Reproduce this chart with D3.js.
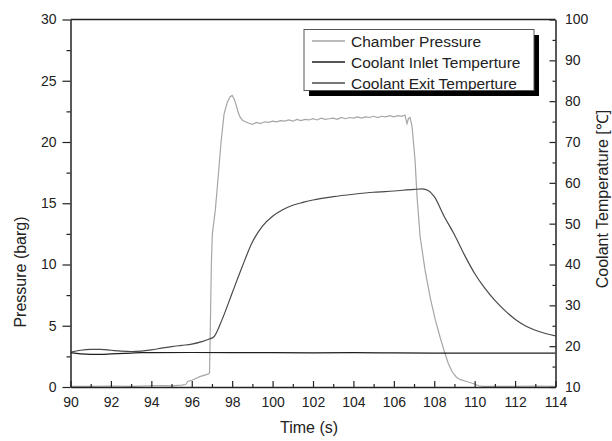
<!DOCTYPE html>
<html>
<head>
<meta charset="utf-8">
<script src="https://cdn.jsdelivr.net/npm/d3@7"></script>
<style>
  body { margin: 0; background: #fff; }
  svg { display: block; font-family: "Liberation Sans", Arial, sans-serif; }
  .axis path, .axis line { stroke: #222; }
  .axis text { font-size: 14px; fill: #222; font-family: "Liberation Sans", Arial, sans-serif; }
</style>
</head>
<body>
<div id="chart"></div>
<script>
// Chamber pressure (barg) vs time (s)
var pressureTime = [90, 91, 92, 93, 94, 94.5, 95, 95.5, 95.7, 95.8, 96.0, 96.2, 96.4, 96.6, 96.8, 96.88,
  96.92, 96.97, 97.02, 97.17, 97.3, 97.45, 97.6, 97.75, 97.9, 98.0, 98.1, 98.2, 98.3, 98.4, 98.5,
  98.6, 98.8, 99.0, 99.2, 99.4, 99.6, 99.8, 100.0, 100.2, 100.4, 100.6, 100.8, 101.0, 101.2, 101.4,
  101.6, 101.8, 102.0, 102.2, 102.4, 102.6, 102.8, 103.0, 103.2, 103.4, 103.6, 103.8, 104.0, 104.2,
  104.4, 104.6, 104.8, 105.0, 105.2, 105.4, 105.6, 105.8, 106.0, 106.2, 106.4, 106.55, 106.65, 106.72,
  106.8, 106.9, 106.97, 107.05, 107.15, 107.3, 107.45, 107.55, 107.8, 108.05, 108.3, 108.5, 108.7,
  108.9, 109.1, 109.3, 109.6, 109.8, 110.0, 110.2, 110.4, 111, 112, 113, 114]
var pressureValue = [0.05, 0.05, 0.08, 0.05, 0.1, 0.12, 0.1, 0.15, 0.2, 0.45, 0.55, 0.7, 0.85, 0.95, 1.05, 1.15,
  5, 10, 12.5, 14.5, 17, 20, 22.3, 23.2, 23.7, 23.8, 23.5, 23.0, 22.4, 22.0, 21.8,
  21.7, 21.55, 21.45, 21.6, 21.5, 21.65, 21.6, 21.7, 21.65, 21.75, 21.7, 21.8, 21.7, 21.85, 21.75,
  21.85, 21.8, 21.9, 21.8, 21.95, 21.85, 21.9, 21.95, 21.85, 22.0, 21.9, 22.0, 21.95, 22.05,
  21.95, 22.05, 22.0, 22.1, 22.0, 22.1, 22.05, 22.15, 22.05, 22.15, 22.1, 22.2, 21.5, 21.9,
  22.0, 21.3, 20.0, 18.5, 15.5, 12.3, 10.6, 9.5, 7.3, 5.5, 4.0, 2.9, 1.9,
  1.2, 0.8, 0.6, 0.45, 0.35, 0.25, 0.1, 0.05, 0.05, 0.05, 0.08, 0.05]

// Coolant inlet temperature (°C)
var inletTime = [90, 90.5, 91, 91.5, 92, 93, 93.5, 94, 96, 98, 100, 102, 104, 106, 108, 110, 112, 114]
var inletValue = [18.4, 18.1, 18.0, 18.0, 18.1, 18.3, 18.4, 18.4, 18.45, 18.4, 18.4, 18.35, 18.4, 18.35, 18.3, 18.3, 18.3, 18.3]

// Coolant exit temperature (°C)
var exitTime = [90, 90.5, 91, 91.5, 92, 92.5, 93, 93.5, 94, 94.5, 95, 95.5, 96, 96.5, 96.9, 97.1,
  97.5, 98, 98.5, 99, 99.5, 100, 100.5, 101, 101.5, 102, 103, 104, 105, 106, 107, 107.4, 107.7,
  108, 108.5, 109, 109.5, 110, 110.5, 111, 111.5, 112, 112.5, 113, 113.5, 114]
var exitValue = [18.5, 19.0, 19.2, 19.2, 19.0, 18.8, 18.7, 18.8, 19.1, 19.5, 19.9, 20.2, 20.5, 21.1, 21.8, 22.3,
  26.5, 33, 39.5, 45.5, 49.4, 51.8, 53.4, 54.5, 55.2, 55.8, 56.6, 57.2, 57.7, 58.0, 58.4, 58.5, 58.1,
  56.6, 51.7, 47.3, 42.3, 37.8, 34.2, 31.2, 28.7, 26.6, 25.0, 23.9, 23.1, 22.5]

// Axis ticks
var timeTicks = [90, 92, 94, 96, 98, 100, 102, 104, 106, 108, 110, 112, 114]
var pressureTicks = [0, 5, 10, 15, 20, 25, 30]
var tempTicks = [10, 20, 30, 40, 50, 60, 70, 80, 90, 100]

var series = [
  {name: 'Chamber Pressure', color: '#a6a6a6', axis: 'p', t: pressureTime, v: pressureValue},
  {name: 'Coolant Inlet Temperture', color: '#1e1e1e', axis: 't', t: inletTime, v: inletValue},
  {name: 'Coolant Exit Temperture', color: '#4a4a4a', axis: 't', t: exitTime, v: exitValue}
]

var W = 612, H = 441
var plotL = 70.5, plotR = 555.5, plotT = 19.5, plotB = 387

var x = d3.scaleLinear().domain([90, 114]).range([plotL, plotR])
var yP = d3.scaleLinear().domain([0, 30]).range([plotB, plotT])
var yT = d3.scaleLinear().domain([10, 100]).range([plotB, plotT])

var svg = d3.select('#chart').append('svg').attr('width', W).attr('height', H)

// clip for curves
svg.append('clipPath').attr('id', 'plot')
  .append('rect').attr('x', plotL).attr('y', plotT).attr('width', plotR - plotL).attr('height', plotB - plotT)

// curves
series.forEach(s => {
  var y = s.axis == 'p' ? yP : yT
  var pts = s.t.map((t, i) => [t, s.v[i]])
  var line = d3.line().x(d => x(d[0])).y(d => y(d[1]))
  if (s.axis == 't') line.curve(d3.curveMonotoneX)
  svg.append('path')
    .datum(pts)
    .attr('clip-path', 'url(#plot)')
    .attr('fill', 'none')
    .attr('stroke', s.color)
    .attr('stroke-width', 1.2)
    .attr('d', line)
})

// bottom axis, ticks point inward
svg.append('g').attr('class', 'axis')
  .attr('transform', 'translate(0,' + plotB + ')')
  .call(d3.axisBottom(x).tickValues(d3.range(91, 114, 2)).tickSize(-3).tickFormat(''))
  .call(g => g.select('.domain').remove())
svg.append('g').attr('class', 'axis')
  .attr('transform', 'translate(0,' + plotB + ')')
  .call(d3.axisBottom(x).tickValues(timeTicks).tickSize(-6).tickPadding(10).tickSizeOuter(0))
  .call(g => g.select('.domain').attr('stroke-width', 1.5))

// left axis, ticks point outward
svg.append('g').attr('class', 'axis')
  .attr('transform', 'translate(' + plotL + ',0)')
  .call(d3.axisLeft(yP).tickValues(d3.range(2.5, 30, 5)).tickSize(4).tickFormat(''))
  .call(g => g.select('.domain').remove())
svg.append('g').attr('class', 'axis')
  .attr('transform', 'translate(' + plotL + ',0)')
  .call(d3.axisLeft(yP).tickValues(pressureTicks).tickSize(8).tickPadding(6).tickSizeOuter(0))
  .call(g => g.select('.domain').attr('stroke-width', 1.5))

// right axis, ticks point inward
svg.append('g').attr('class', 'axis')
  .attr('transform', 'translate(' + plotR + ',0)')
  .call(d3.axisRight(yT).tickValues(d3.range(15, 100, 10)).tickSize(-3).tickFormat(''))
  .call(g => g.select('.domain').remove())
svg.append('g').attr('class', 'axis')
  .attr('transform', 'translate(' + plotR + ',0)')
  .call(d3.axisRight(yT).tickValues(tempTicks).tickSize(-6).tickPadding(9.5).tickSizeOuter(0))
  .call(g => g.select('.domain').attr('stroke-width', 1.5))

// top frame line
svg.append('line')
  .attr('x1', plotL).attr('x2', plotR).attr('y1', plotT).attr('y2', plotT)
  .attr('stroke', '#222').attr('stroke-width', 1.5)

svg.selectAll('.axis line').attr('stroke-width', 1.2)

// axis titles
svg.append('text')
  .attr('x', (plotL + plotR) / 2 - 4)
  .attr('y', 433)
  .attr('text-anchor', 'middle')
  .style('font-size', '16px').style('fill', '#222')
  .text('Time (s)')

svg.append('text')
  .attr('transform', 'translate(26,' + 272 + ') rotate(-90)')
  .attr('text-anchor', 'middle')
  .style('font-size', '16px').style('fill', '#222')
  .text('Pressure (barg)')

svg.append('text')
  .attr('transform', 'translate(608,' + 199 + ') rotate(-90)')
  .attr('text-anchor', 'middle')
  .style('font-size', '16px').style('fill', '#222')
  .text('Coolant Temperature [℃]')

// legend with drop shadow
var legend = svg.append('g').attr('class', 'legend')
legend.append('rect')
  .attr('x', 309).attr('y', 35).attr('width', 230).attr('height', 61)
  .attr('fill', '#000')
legend.append('rect')
  .attr('x', 304).attr('y', 29.5).attr('width', 230).attr('height', 61)
  .attr('fill', '#fff').attr('stroke', '#555').attr('stroke-width', 1)

series.forEach((s, i) => {
  var ly = 41 + i * 21
  legend.append('line')
    .attr('x1', 312).attr('x2', 345).attr('y1', ly).attr('y2', ly)
    .attr('stroke', s.color).attr('stroke-width', 1.5)
  legend.append('text')
    .attr('x', 351).attr('y', ly + 5.5)
    .style('font-size', '15.5px').style('fill', '#222')
    .text(s.name)
})
</script>
</body>
</html>
